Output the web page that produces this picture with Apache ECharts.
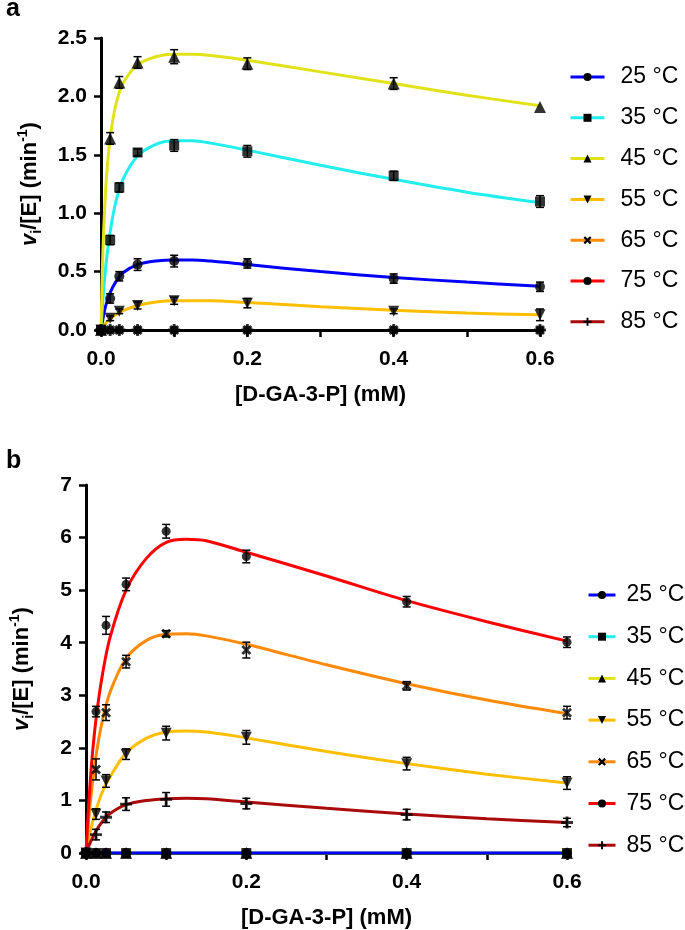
<!DOCTYPE html>
<html>
<head>
<meta charset="utf-8">
<script src="https://cdn.jsdelivr.net/npm/echarts@6/dist/echarts.min.js"></script>
<style>
  html, body { margin: 0; padding: 0; background: #fff; }
  #chart { width: 685px; height: 930px; }
</style>
</head>
<body>
<div id="chart"></div>
<script>
// substrate concentrations of the measured points (mM)
var xPts = [0, 0.0125, 0.025, 0.05, 0.1, 0.2, 0.4, 0.6];
var xFit = [0, 0.0025, 0.005, 0.0075, 0.0125, 0.02, 0.03, 0.05, 0.075, 0.1, 0.125, 0.15, 0.2, 0.3, 0.4, 0.5, 0.6];

var temps = ['25 °C', '35 °C', '45 °C', '55 °C', '65 °C', '75 °C', '85 °C'];
var zeros8 = [0, 0, 0, 0, 0, 0, 0, 0];
var zerosFit = [0, 0, 0, 0, 0, 0, 0, 0, 0, 0, 0, 0, 0, 0, 0, 0, 0];

// panel a, means
var a25 = [0, 0.27, 0.46, 0.56, 0.59, 0.57, 0.44, 0.37];
var a35 = [0, 0.77, 1.22, 1.52, 1.58, 1.53, 1.32, 1.10];
var a45 = [0, 1.64, 2.12, 2.29, 2.34, 2.28, 2.11, 1.91];
var a55 = [0, 0.10, 0.16, 0.21, 0.25, 0.23, 0.16, 0.13];
// panel a, error bars
var aErr25 = [0, 0.04, 0.04, 0.05, 0.05, 0.04, 0.04, 0.04];
var aErr35 = [0, 0.04, 0.04, 0.03, 0.05, 0.05, 0.04, 0.05];
var aErr45 = [0, 0.05, 0.05, 0.05, 0.06, 0.05, 0.05, 0];
var aErr55 = [0, 0.02, 0.02, 0.03, 0.03, 0.04, 0.02, 0.05];
// panel a, fitted curves
var aFit25 = [0, 0.09, 0.17, 0.23, 0.32, 0.41, 0.49, 0.56, 0.59, 0.60, 0.60, 0.59, 0.56, 0.50, 0.45, 0.41, 0.375];
var aFit35 = [0, 0.25, 0.44, 0.60, 0.84, 1.09, 1.29, 1.49, 1.59, 1.62, 1.62, 1.60, 1.54, 1.41, 1.29, 1.18, 1.09];
var aFit45 = [0, 0.65, 1.04, 1.31, 1.64, 1.92, 2.11, 2.27, 2.34, 2.36, 2.36, 2.35, 2.31, 2.21, 2.11, 2.01, 1.92];
var aFit55 = [0, 0.025, 0.045, 0.065, 0.095, 0.13, 0.165, 0.21, 0.24, 0.25, 0.25, 0.25, 0.235, 0.20, 0.17, 0.145, 0.13];

// panel b, means
var b55 = [0, 0.74, 1.37, 1.88, 2.28, 2.20, 1.70, 1.33];
var b65 = [0, 1.59, 2.67, 3.64, 4.17, 3.86, 3.18, 2.67];
var b75 = [0, 2.69, 4.33, 5.11, 6.12, 5.64, 4.78, 4.01];
var b85 = [0, 0.35, 0.68, 0.93, 1.02, 0.94, 0.73, 0.58];
// panel b, error bars
var bErr55 = [0, 0.10, 0.12, 0.10, 0.13, 0.13, 0.12, 0.12];
var bErr65 = [0, 0.20, 0.15, 0.12, 0.06, 0.15, 0.08, 0.12];
var bErr75 = [0, 0.10, 0.17, 0.12, 0.13, 0.12, 0.10, 0.10];
var bErr85 = [0, 0.10, 0.10, 0.12, 0.13, 0.10, 0.10, 0.08];
// panel b, fitted curves
var bFit55 = [0, 0.20, 0.38, 0.55, 0.82, 1.15, 1.45, 1.90, 2.18, 2.30, 2.32, 2.30, 2.19, 1.93, 1.70, 1.50, 1.33];
var bFit65 = [0, 0.49, 0.90, 1.26, 1.85, 2.49, 3.06, 3.70, 4.04, 4.16, 4.17, 4.13, 3.97, 3.58, 3.22, 2.91, 2.65];
var bFit75 = [0, 0.70, 1.30, 1.80, 2.55, 3.35, 4.10, 5.00, 5.60, 5.91, 5.97, 5.94, 5.72, 5.27, 4.80, 4.40, 4.03];
var bFit85 = [0, 0.10, 0.19, 0.27, 0.42, 0.59, 0.75, 0.92, 1.00, 1.03, 1.04, 1.03, 0.97, 0.85, 0.74, 0.65, 0.58];

var meansA = [a25, a35, a45, a55, zeros8, zeros8, zeros8];
var errsA = [aErr25, aErr35, aErr45, aErr55, zeros8, zeros8, zeros8];
var fitsA = [aFit25, aFit35, aFit45, aFit55, zerosFit, zerosFit, zerosFit];
var meansB = [zeros8, zeros8, zeros8, b55, b65, b75, b85];
var errsB = [zeros8, zeros8, zeros8, bErr55, bErr65, bErr75, bErr85];
var fitsB = [zerosFit, zerosFit, zerosFit, bFit55, bFit65, bFit75, bFit85];

var colors = ['#0000FF', '#22EEEE', '#E2E21A', '#FFBF00', '#FF8A0A', '#FF0000', '#AA0A0A'];
var symbols = [
  'circle',
  'rect',
  'triangle',
  'path://M0,0L10,0L5,9Z',
  'path://M0,2L2,0L5,3L8,0L10,2L7,5L10,8L8,10L5,7L2,10L0,8L3,5Z',
  'circle',
  'path://M3.8,0H6.2V3.8H10V6.2H6.2V10H3.8V6.2H0V3.8H3.8Z'
];
var symSizes = [10, 10, 12, 11, 10, 9, 12];

var FONT = 'Liberation Sans, Arial, Helvetica, sans-serif';

function zip(xs, ys) {
  return xs.map(function (x, i) { return [x, ys[i]]; });
}

function renderErr(params, api) {
  var x = api.value(0), y = api.value(1), e = api.value(2);
  var top = api.coord([x, y + e]);
  var bot = api.coord([x, y - e]);
  var w = 4;
  var st = { stroke: '#000', lineWidth: 1.5 };
  return {
    type: 'group',
    children: [
      { type: 'line', shape: { x1: top[0], y1: top[1], x2: bot[0], y2: bot[1] }, style: st },
      { type: 'line', shape: { x1: top[0] - w, y1: top[1], x2: top[0] + w, y2: top[1] }, style: st },
      { type: 'line', shape: { x1: bot[0] - w, y1: bot[1], x2: bot[0] + w, y2: bot[1] }, style: st }
    ]
  };
}

var series = [];
function addPanel(idx, means, errs, fits) {
  temps.forEach(function (t, i) {
    // in panel a the flat zero fits sit under the black x axis
    var hidden = idx === 0 && fits[i] === zerosFit;
    series.push({
      name: t,
      type: 'line',
      xAxisIndex: idx,
      yAxisIndex: idx,
      data: zip(xFit, fits[i]),
      smooth: 0.3,
      showSymbol: false,
      symbol: symbols[i],
      silent: true,
      z: (idx === 1 && i === 0) ? 3 : 2,
      lineStyle: { color: colors[i], width: hidden ? 0 : 3 },
      itemStyle: { color: colors[i] }
    });
    var errData = [];
    xPts.forEach(function (x, k) {
      if (errs[i][k] > 0) errData.push([x, means[i][k], errs[i][k]]);
    });
    if (errData.length) {
      series.push({
        type: 'custom',
        xAxisIndex: idx,
        yAxisIndex: idx,
        renderItem: renderErr,
        data: errData,
        silent: true,
        z: 4
      });
    }
    series.push({
      type: 'scatter',
      xAxisIndex: idx,
      yAxisIndex: idx,
      data: zip(xPts, means[i]),
      symbol: symbols[i],
      symbolSize: symSizes[i],
      itemStyle: { color: '#000' },
      silent: true,
      z: 5
    });
  });
}
addPanel(0, meansA, errsA, fitsA);
addPanel(1, meansB, errsB, fitsB);

function legendData() {
  return temps.map(function (t, i) {
    return {
      name: t,
      itemStyle: { color: '#000', borderWidth: 0 },
      lineStyle: { color: colors[i], width: 3, opacity: 1 }
    };
  });
}

function xAxisCfg(idx) {
  return {
    type: 'value',
    gridIndex: idx,
    min: 0,
    max: 0.6,
    interval: 0.1,
    name: '[D-GA-3-P] (mM)',
    nameLocation: 'middle',
    nameGap: 54,
    nameTextStyle: { fontFamily: FONT, fontWeight: 'bold', fontSize: 22, color: '#000' },
    axisLine: { lineStyle: { color: '#000', width: 3 } },
    axisTick: { length: 7, lineStyle: { color: '#000', width: 2.5 } },
    axisLabel: {
      margin: 19,
      fontFamily: FONT, fontWeight: 'bold', fontSize: 21, color: '#000',
      formatter: function (v) { return Math.round(v * 10) % 2 === 0 ? v.toFixed(1) : ''; }
    },
    splitLine: { show: false }
  };
}

function yAxisCfg(idx, max, interval, gap, fmt) {
  return {
    type: 'value',
    gridIndex: idx,
    min: 0,
    max: max,
    interval: interval,
    name: '{v|v}{s|i}{n|/[E] (min}{p|-1}{n|)}',
    nameLocation: 'middle',
    nameRotate: 90,
    nameGap: gap,
    nameTextStyle: {
      fontFamily: FONT, fontWeight: 'bold', fontSize: 22, color: '#000',
      rich: {
        v: { fontFamily: FONT, fontStyle: 'italic', fontWeight: 'bold', fontSize: 22, lineHeight: 28, color: '#000' },
        n: { fontFamily: FONT, fontWeight: 'bold', fontSize: 22, lineHeight: 28, color: '#000' },
        s: { fontFamily: FONT, fontWeight: 'bold', fontSize: 14, lineHeight: 16, verticalAlign: 'bottom', color: '#000' },
        p: { fontFamily: FONT, fontWeight: 'bold', fontSize: 14, lineHeight: 16, verticalAlign: 'top', color: '#000' }
      }
    },
    axisLine: { show: true, lineStyle: { color: '#000', width: 3 } },
    axisTick: { show: true, length: 7, lineStyle: { color: '#000', width: 2.5 } },
    axisLabel: {
      margin: 14,
      fontFamily: FONT, fontWeight: 'bold', fontSize: 21, color: '#000',
      formatter: fmt
    },
    splitLine: { show: false }
  };
}

var chart = echarts.init(document.getElementById('chart'), null, { renderer: 'canvas' });
chart.setOption({
  animation: false,
  backgroundColor: '#fff',
  graphic: [
    { type: 'text', x: 6, y: 9, style: { text: 'a', font: 'bold 25px ' + FONT, fill: '#000', textVerticalAlign: 'middle' } },
    { type: 'text', x: 6, y: 461, style: { text: 'b', font: 'bold 25px ' + FONT, fill: '#000', textVerticalAlign: 'middle' } }
  ],
  legend: [
    {
      orient: 'vertical', left: 569, top: 65, padding: 0,
      itemWidth: 34, itemHeight: 10, itemGap: 16.8,
      selectedMode: false,
      textStyle: { fontFamily: FONT, fontSize: 23, lineHeight: 24, color: '#000', padding: [0, 0, 0, 11] },
      data: legendData()
    },
    {
      orient: 'vertical', left: 587, top: 583, padding: 0,
      itemWidth: 27, itemHeight: 10, itemGap: 17.7,
      selectedMode: false,
      textStyle: { fontFamily: FONT, fontSize: 23, lineHeight: 24, color: '#000', padding: [0, 0, 0, 6] },
      data: legendData()
    }
  ],
  grid: [
    { left: 101, right: 145, top: 38, bottom: 600 },
    { left: 80, right: 118, top: 485, bottom: 77 }
  ],
  xAxis: [xAxisCfg(0), xAxisCfg(1)],
  yAxis: [
    yAxisCfg(0, 2.5, 0.5, 57, function (v) { return v.toFixed(1); }),
    yAxisCfg(1, 7, 1, 50, function (v) { return String(v); })
  ],
  series: series
});
</script>
</body>
</html>
